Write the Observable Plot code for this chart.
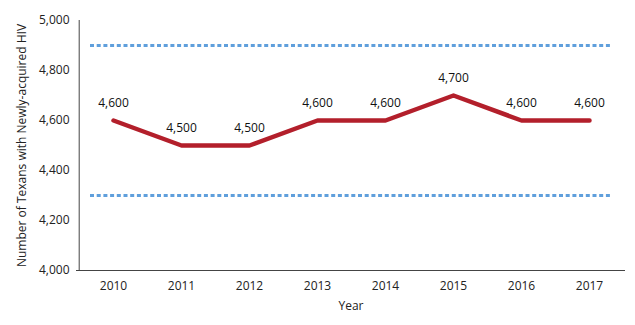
<!DOCTYPE html>
<html><head><meta charset="utf-8">
<script src="https://cdn.jsdelivr.net/npm/d3@7"></script>
<script src="https://cdn.jsdelivr.net/npm/@observablehq/plot@0.6"></script>
<style>body{margin:0;background:#fff;} svg{font-family:"Open Sans",sans-serif;}</style>
</head><body><div id="chart"></div>
<script>
const years = ["2010","2011","2012","2013","2014","2015","2016","2017"];
const values = [4600,4500,4500,4600,4600,4700,4600,4600];
const refLines = [4900,4300];
const yTicks = [4000,4200,4400,4600,4800,5000];
const data = years.map((y,i)=>({year:y, value:values[i]}));
const fmt = d3.format(",");
const W = 635, ML = 76, MR = 10;
const step = (W - ML - MR) / years.length;
const plot = Plot.plot({
  width:W, height:325,
  marginLeft:ML, marginRight:MR, marginTop:20, marginBottom:55,
  style:{fontSize:"12px", fontFamily:"'Open Sans',sans-serif", color:"#222"},
  x:{type:"point", domain:years, padding:0.5, label:null},
  y:{domain:[4000,5000], label:null},
  marks:[
    Plot.ruleY(refLines, {y:d=>d, insetLeft:14, insetRight:15, stroke:"#5f9fdc", strokeWidth:3, strokeDasharray:"4,2.7"}),
    Plot.ruleX([years[0]], {dx:-step/2, stroke:"#444", strokeWidth:1}),
    Plot.ruleY([4000], {stroke:"#444", strokeWidth:1}),
    Plot.line(data, {x:"year", y:"value", stroke:"#b31f2b", strokeWidth:4.5}),
    Plot.text(data, {x:"year", y:"value", text:d=>fmt(d.value), dy:-17, fontSize:12, fill:"#111"}),
    Plot.axisY({ticks:yTicks, tickFormat:fmt, tickSize:0, tickPadding:7, label:null, fontSize:12}),
    Plot.axisX({tickSize:0, tickPadding:11, label:null, fontSize:12}),
    Plot.text(["Year"], {frameAnchor:"bottom", dy:39, fontSize:12, fill:"#222"}),
    Plot.text(["Number of Texans with Newly-acquired HIV"], {frameAnchor:"left", textAnchor:"middle", dx:-54, rotate:-90, fontSize:12, fill:"#222"})
  ]
});
document.getElementById("chart").appendChild(plot);
</script></body></html>
